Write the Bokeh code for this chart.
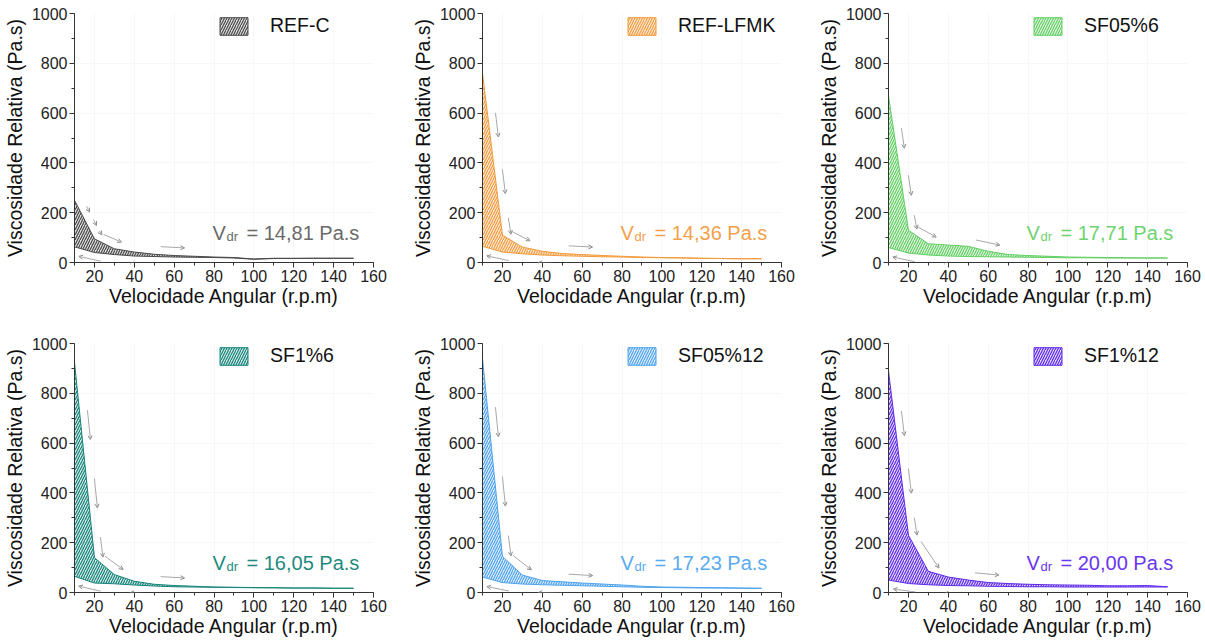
import numpy as np
from bokeh.plotting import figure
from bokeh.layouts import column, row
from bokeh.models import Label, Legend, LegendItem, FixedTicker, Arrow, OpenHead
from bokeh.embed import file_html
from bokeh.resources import INLINE

# ---- data ----
rpm = [10, 20, 30, 40, 50, 60, 70, 80, 90, 100, 110, 120, 130, 140, 150]

names = ["REF-C", "REF-LFMK", "SF05%6", "SF1%6", "SF05%12", "SF1%12"]
vdr = ["14,81", "14,36", "17,71", "16,05", "17,23", "20,00"]

refc_up = [250, 95, 55, 42, 33, 28, 25, 22, 20, 14, 17, 17, 17, 17, 17]
refc_lo = [63, 40, 32, 26, 24, 22, 21, 20, 18, 13, 16, 16, 17, 17, 17]
lfmk_up = [760, 110, 62, 45, 36, 32, 28, 25, 22, 20, 19, 17, 16, 15, 15]
lfmk_lo = [65, 42, 35, 30, 27, 25, 23, 22, 20, 19, 18, 17, 16, 15, 15]
sf05_6_up = [670, 130, 75, 70, 65, 45, 32, 28, 25, 22, 21, 20, 19, 18, 18]
sf05_6_lo = [60, 38, 30, 26, 24, 23, 22, 21, 20, 19, 19, 18, 18, 18, 18]
sf1_6_up = [925, 140, 72, 45, 33, 28, 25, 22, 21, 20, 19, 18, 18, 17, 17]
sf1_6_lo = [65, 38, 35, 30, 26, 23, 22, 21, 20, 19, 19, 18, 18, 17, 17]
sf05_12_up = [940, 145, 70, 48, 43, 38, 34, 30, 25, 22, 21, 20, 19, 18, 17]
sf05_12_lo = [62, 40, 34, 31, 29, 27, 25, 23, 21, 20, 19, 18, 18, 17, 17]
sf1_12_up = [890, 230, 85, 62, 50, 40, 36, 33, 31, 30, 29, 27, 27, 28, 23]
sf1_12_lo = [50, 36, 31, 28, 27, 25, 24, 23, 23, 22, 22, 22, 22, 22, 22]

uppers = [refc_up, lfmk_up, sf05_6_up, sf1_6_up, sf05_12_up, sf1_12_up]
lowers = [refc_lo, lfmk_lo, sf05_6_lo, sf1_6_lo, sf05_12_lo, sf1_12_lo]

x_ticks = [20, 40, 60, 80, 100, 120, 140, 160]
y_ticks = [0, 200, 400, 600, 800, 1000]

# ---- styles ----
hatch_colors = ["#4a4a4a", "#F39A3C", "#62CF62", "#17847A", "#4FA3EE", "#5F2BEA"]
text_colors = ["#6a6a6a", "#F5A04A", "#6FD36F", "#1E8A80", "#5AAAF0", "#6A35EE"]
FONT = "Liberation Sans"
FW, FH = 299, 249
X0, X1, Y0, Y1 = 10, 160, 0, 1000
sx = (X1 - X0) / FW
sy = (Y1 - Y0) / FH

# arrow placement (x-intervals along the curves) -- styling only
UP_ARROWS = [(12.5, 14.0), (16.0, 17.5), (19.0, 20.3), (23.0, 32.0), (53.0, 65.0)]
LO_ARROWS = [(24.0, 13.0), (50.0, 38.0)]


def curve_arrow(p, xs, ys, xa, xb, side):
    ya = float(np.interp(xa, xs, ys))
    yb = float(np.interp(xb, xs, ys))
    pa = np.array([(xa - X0) / sx, (ya - Y0) / sy])
    pb = np.array([(xb - X0) / sx, (yb - Y0) / sy])
    d = pb - pa
    if xb < xa:
        d = -d
    d = d / (np.hypot(*d) + 1e-9)
    n = np.array([-d[1], d[0]]) if side == "up" else np.array([d[1], -d[0]])
    off = 8.0
    pa2 = pa + n * off
    pb2 = pb + n * off
    p.add_layout(Arrow(x_start=X0 + pa2[0] * sx, y_start=Y0 + pa2[1] * sy,
                       x_end=X0 + pb2[0] * sx, y_end=Y0 + pb2[1] * sy,
                       line_color="#a8a8a8", line_width=1,
                       end=OpenHead(size=4, line_color="#8a8a8a", line_width=1)))


def make_panel(i, right_border, bottom_border):
    p = figure(output_backend="svg", toolbar_location=None,
               frame_width=FW, frame_height=FH,
               x_range=(X0, X1), y_range=(Y0, Y1),
               min_border_left=73, min_border_right=right_border,
               min_border_top=13, min_border_bottom=bottom_border,
               background_fill_color="white", border_fill_color="white",
               outline_line_color=None)
    p.xaxis.ticker = FixedTicker(ticks=x_ticks, minor_ticks=list(range(10, 161, 10)))
    p.yaxis.ticker = FixedTicker(ticks=y_ticks, minor_ticks=list(range(0, 1001, 100)))
    for ax in (p.xaxis[0], p.yaxis[0]):
        ax.axis_line_color = "#333333"
        ax.axis_line_width = 1
        ax.major_tick_line_color = "#333333"
        ax.minor_tick_line_color = "#333333"
        ax.major_tick_out = 5
        ax.major_tick_in = 0
        ax.minor_tick_out = 3
        ax.minor_tick_in = 0
        ax.major_label_text_font = FONT
        ax.major_label_text_font_size = "16px"
        ax.major_label_text_color = "#222222"
        ax.axis_label_text_font = FONT
        ax.axis_label_text_font_size = "19.5px"
        ax.axis_label_text_font_style = "normal"
        ax.axis_label_text_color = "#111111"
    p.xaxis.axis_label = "Velocidade Angular (r.p.m)"
    p.yaxis.axis_label = "Viscosidade Relativa (Pa.s)"
    p.xaxis.major_label_standoff = 2
    p.yaxis.major_label_standoff = 2
    p.xaxis.axis_label_standoff = 0
    p.yaxis.axis_label_standoff = 3
    p.grid.grid_line_color = "#f7f7f7"
    p.grid.grid_line_width = 1

    up = uppers[i]
    lo = lowers[i]
    c = hatch_colors[i]
    xs = rpm + rpm[::-1]
    ys = up + lo[::-1]
    r = p.patch(xs, ys, fill_color=c, fill_alpha=0.18,
                hatch_pattern="/", hatch_color=c, hatch_alpha=1.0,
                hatch_scale=5, hatch_weight=1.2,
                line_color=c, line_width=1)

    for xa, xb in UP_ARROWS:
        curve_arrow(p, rpm, up, xa, xb, "up")
    for xa, xb in LO_ARROWS:
        curve_arrow(p, rpm, lo, xa, xb, "lo")

    legend = Legend(items=[LegendItem(label=names[i], renderers=[r])],
                    location=(142, FH - 2 - 22),
                    padding=0, margin=0, spacing=0,
                    glyph_width=35, glyph_height=22, label_standoff=19,
                    label_text_font=FONT, label_text_font_size="19.5px",
                    label_text_color="#111111",
                    border_line_color=None, background_fill_alpha=0)
    p.add_layout(legend, "center")

    tc = text_colors[i]
    base = 30
    p.add_layout(Label(x=X0 + 138 * sx, y=base * sy, text="V",
                       text_font=FONT, text_font_size="20px", text_color=tc,
                       text_baseline="alphabetic"))
    p.add_layout(Label(x=X0 + 152 * sx, y=(base - 4) * sy, text="dr",
                       text_font=FONT, text_font_size="13px", text_color=tc,
                       text_baseline="alphabetic"))
    p.add_layout(Label(x=X0 + 172 * sx, y=base * sy, text="= " + vdr[i] + " Pa.s",
                       text_font=FONT, text_font_size="20px", text_color=tc,
                       text_baseline="alphabetic"))
    return p


rights = [35, 33, 21]
top = row(*[make_panel(k, rights[k], 68) for k in range(3)], spacing=0)
bottom = row(*[make_panel(k + 3, rights[k], 48) for k in range(3)], spacing=0)
layout = column(top, bottom, spacing=0)

open("out.html", "w").write(file_html(layout, INLINE))
